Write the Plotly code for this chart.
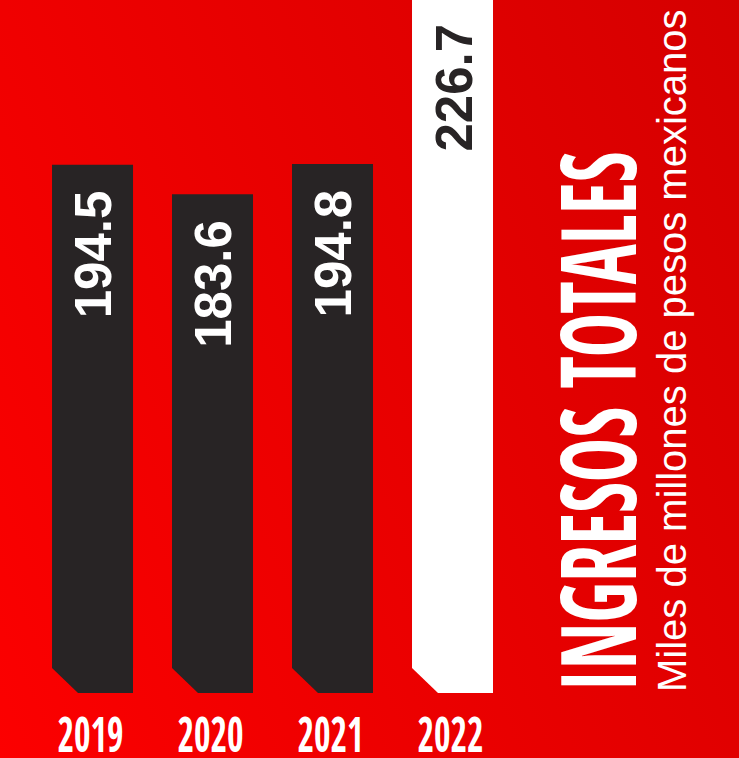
import json
import urllib.parse
import plotly.graph_objects as go

# ---- data ----
years = ["2019", "2020", "2021", "2022"]
values = [194.5, 183.6, 194.8, 226.7]
value_labels = ["194.5", "183.6", "194.8", "226.7"]
highlight = [False, False, False, True]
title_text = "INGRESOS TOTALES"
subtitle_text = "Miles de millones de pesos mexicanos"

# ---- layout geometry ----
W, H = 739, 758
x_min, x_max = -0.771, 5.3875
y_min, y_max = -23.93, 255.15
px_per_x = W / (x_max - x_min)
px_per_y = H / (y_max - y_min)
bar_w = 81 / px_per_x
cham_x = 26 / px_per_x
cham_y = 25 / px_per_y

DARK = "#282425"
WHITE = "#ffffff"
COND = "Open Sans Condensed, Roboto Condensed, DejaVu Sans Condensed, sans-serif"

fig = go.Figure()

for i, (yr, v, hl) in enumerate(zip(years, values, highlight)):
    top = y_max if hl else v  # highlighted bar runs off the top edge
    x0, x1 = i - bar_w / 2, i + bar_w / 2
    xs = [x0, x0, x1, x1, x0 + cham_x, x0]
    ys = [cham_y, top, top, 0, 0, cham_y]
    fig.add_trace(go.Scatter(
        x=xs, y=ys, mode="lines", fill="toself",
        fillcolor=WHITE if hl else DARK,
        line=dict(width=0, color=WHITE if hl else DARK),
        hoverinfo="skip", showlegend=False,
    ))
    fig.add_annotation(
        x=i, y=top, xref="x", yref="y", text=value_labels[i],
        textangle=-90, showarrow=False, xanchor="center", yanchor="top",
        yshift=-24 if not hl else -22, xshift=1,
        font=dict(family="Liberation Sans, Arial, sans-serif", size=51,
                  color=DARK if hl else WHITE, weight="bold"),
    )
    fig.add_annotation(
        x=i - 0.02, y=0, xref="x", yref="y", text=yr, showarrow=False,
        xanchor="center", yanchor="middle", yshift=-40,
        font=dict(family=COND, size=48, color=WHITE, weight="bold"),
    )

fig.add_annotation(
    x=595 / W, y=1 - 422 / H, xref="paper", yref="paper", text=title_text,
    textangle=-90, showarrow=False, xanchor="center", yanchor="middle",
    font=dict(family=COND, size=104, color=WHITE, weight="bold"),
)
fig.add_annotation(
    x=672 / W, y=1 - 351 / H, xref="paper", yref="paper", text=subtitle_text,
    textangle=-90, showarrow=False, xanchor="center", yanchor="middle",
    font=dict(family="Liberation Sans, Arial, sans-serif", size=40, color=WHITE),
)

svg = (
    '<svg xmlns="http://www.w3.org/2000/svg" width="739" height="758" '
    'preserveAspectRatio="none" viewBox="0 0 1 1">'
    '<defs><linearGradient id="g" x1="1" y1="0" x2="-0.206" y2="0.536" '
    'gradientUnits="userSpaceOnUse">'
    '<stop offset="0" stop-color="rgb(213,0,0)"/>'
    '<stop offset="1" stop-color="rgb(252,0,0)"/>'
    '</linearGradient></defs>'
    '<rect x="0" y="0" width="1" height="1" fill="url(#g)"/></svg>'
)
src = "data:image/svg+xml;charset=utf-8," + urllib.parse.quote(svg)

fig.update_layout(
    width=W, height=H,
    margin=dict(l=0, r=0, t=0, b=0),
    paper_bgcolor="#e60000",
    plot_bgcolor="rgba(0,0,0,0)",
    images=[dict(source=src, xref="paper", yref="paper", x=0, y=1,
                 sizex=1, sizey=1, xanchor="left", yanchor="top",
                 sizing="stretch", layer="below")],
    xaxis=dict(range=[x_min, x_max], visible=False, fixedrange=True),
    yaxis=dict(range=[y_min, y_max], visible=False, fixedrange=True),
    showlegend=False,
)

# condensed display lettering: squeeze text to the lengths of the original design
squeeze = {title_text: 540, **{y: 66 for y in years}}
post = """
document.body.style.margin = '0';
var squeeze = %s;
document.querySelectorAll('.annotation-text').forEach(function (t) {
  var L = squeeze[t.textContent];
  if (L) {
    t.setAttribute('textLength', L);
    t.setAttribute('lengthAdjust', 'spacingAndGlyphs');
  }
});
""" % json.dumps(squeeze)

fig.write_html("out.html", post_script=post, config={"displayModeBar": False})
